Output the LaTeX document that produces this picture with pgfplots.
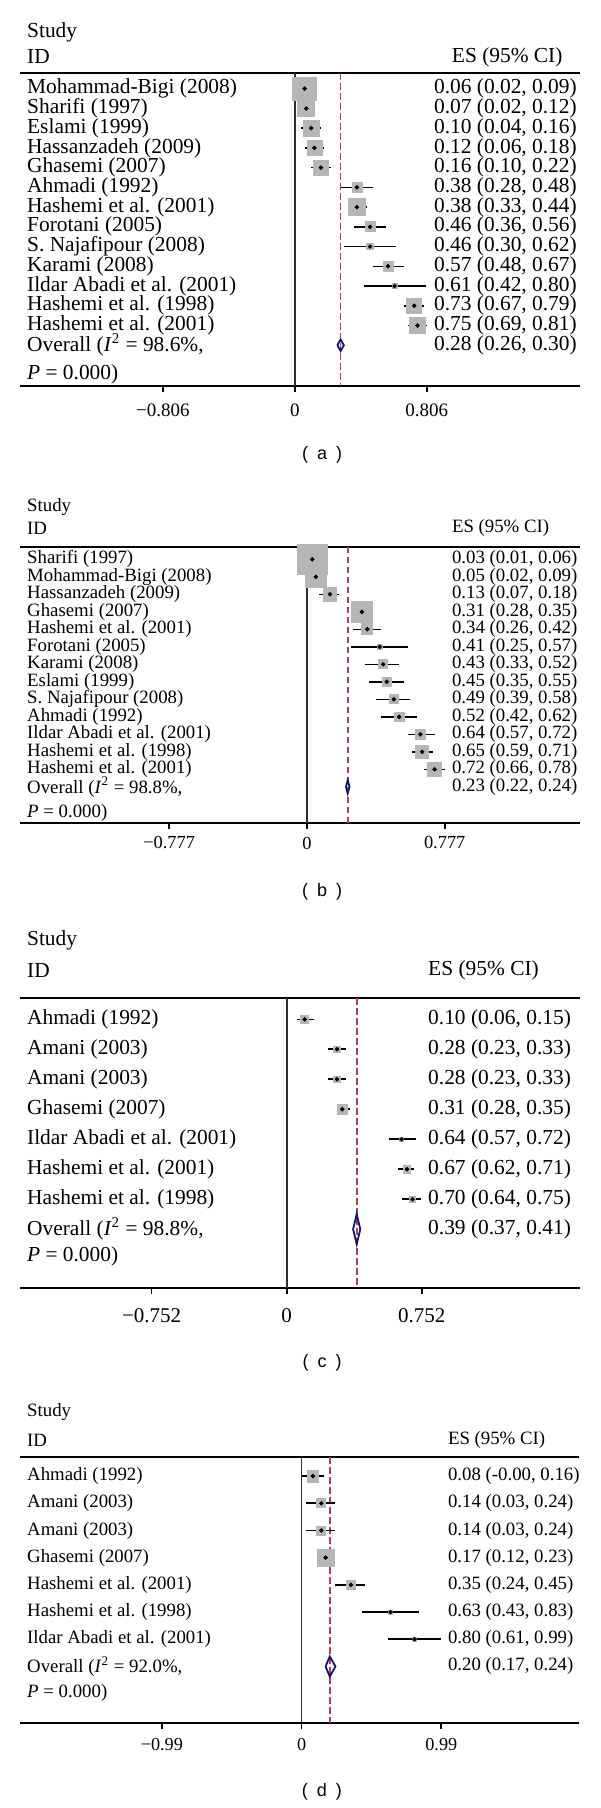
\documentclass[border=0pt]{standalone}
\usepackage{fontspec}
\setmainfont{Liberation Serif}
\newfontfamily\capfont{Liberation Sans}
\usepackage{pgfplots}
\pgfplotsset{compat=1.18}
\usepackage{pgfplotstable}
\definecolor{sqgray}{RGB}{182,182,182}
\definecolor{dashcol}{RGB}{170,68,84}
\definecolor{dianavy}{RGB}{20,20,110}
\definecolor{zerocol}{RGB}{45,45,45}

% r = -(row index), es, lo, hi, s = square side (px)
\pgfplotstableread{
r es lo hi s
0 0.06 0.02 0.09 23.5
-1 0.07 0.02 0.12 16.7
-2 0.10 0.04 0.16 16
-3 0.12 0.06 0.18 15
-4 0.16 0.10 0.22 15
-5 0.38 0.28 0.48 10
-6 0.38 0.33 0.44 17.3
-7 0.46 0.36 0.56 10
-8 0.46 0.30 0.62 6.5
-9 0.57 0.48 0.67 10
-10 0.61 0.42 0.80 5
-11 0.73 0.67 0.79 15
-12 0.75 0.69 0.81 16
}\tabA
\pgfplotstableread{
r es lo hi s
0 0.03 0.01 0.06 30
-1 0.05 0.02 0.09 21.3
-2 0.13 0.07 0.18 13.7
-3 0.31 0.28 0.35 21.7
-4 0.34 0.26 0.42 11
-5 0.41 0.25 0.57 5
-6 0.43 0.33 0.52 9
-7 0.45 0.35 0.55 8.7
-8 0.49 0.39 0.58 9
-9 0.52 0.42 0.62 9.6
-10 0.64 0.57 0.72 10.3
-11 0.65 0.59 0.71 12.6
-12 0.72 0.66 0.78 13.4
}\tabB
\pgfplotstableread{
r es lo hi s
0 0.10 0.06 0.15 8.3
-1 0.28 0.23 0.33 6.7
-2 0.28 0.23 0.33 6.7
-3 0.31 0.28 0.35 9.7
-4 0.64 0.57 0.72 4
-5 0.67 0.62 0.71 7.7
-6 0.70 0.64 0.75 6.5
}\tabC
\pgfplotstableread{
r es lo hi s
0 0.08 -0.00 0.16 11.7
-1 0.14 0.03 0.24 9
-2 0.14 0.03 0.24 9
-3 0.17 0.12 0.23 17
-4 0.35 0.24 0.45 9.3
-5 0.63 0.43 0.83 4
-6 0.80 0.61 0.99 4
}\tabD

\pgfplotsset{
  forest/.style={scale only axis, clip=false, anchor=north west,
    axis x line*=bottom, axis y line=none,
    x axis line style={-, line width=0.9pt, black},
    ytick=\empty, tick align=outside, major tick length=3pt,
    xtick style={line width=0.9pt, black},
    xticklabel style={anchor=center}},
  sq/.style={scatter, only marks, mark=square*,
    scatter/use mapped color={draw=sqgray, fill=sqgray},
    visualization depends on={\thisrow{s}/4 \as \msz},
    scatter/@pre marker code/.append style={/tikz/mark size=\msz}},
  ci/.style={only marks, mark=*, mark size=0.9pt, black,
    error bars/.cd, x dir=both, x explicit, error mark=none,
    error bar style={line width=0.8pt, black}}
}
\newcommand{\lbl}[2]{\node[anchor=west,inner sep=0pt,font=\fs] at (axis cs:\xL,#1) {#2};}
\newcommand{\val}[2]{\node[anchor=west,inner sep=0pt,font=\fs] at (axis cs:\xR,#1) {#2};}

\begin{document}
\begin{tikzpicture}
\path[use as bounding box] (0,0) rectangle (300pt,-904pt);

% ---------------- (a) ----------------
\def\xL{-1.638}\def\xR{0.849}\def\fs{\fontsize{10.7}{12}\selectfont}
\begin{axis}[forest, at={(9.95pt,-36.65pt)}, width=279.95pt, height=156.2pt,
  xmin=-1.680, xmax=1.742, ymin=-15.05, ymax=0.78,
  xtick={-0.806,0,0.806}, xticklabels={−0.806,0,0.806},
  xticklabel style={font=\fontsize{9.5}{11}\selectfont, yshift=-9.15pt}]
\draw[black, line width=0.9pt] (axis cs:-1.680,0.78) -- (axis cs:1.742,0.78);
\draw[zerocol, line width=0.9pt] (axis cs:0,0.78) -- (axis cs:0,-15.05);
\draw[dashcol, line width=0.9pt, dash pattern=on 3.3pt off 1.7pt] (axis cs:0.28,0.78) -- (axis cs:0.28,-15.05);
\addplot[sq] table[x=es, y=r] {\tabA};
\addplot[ci] table[x=es, y=r, x error plus expr=\thisrow{hi}-\thisrow{es}, x error minus expr=\thisrow{es}-\thisrow{lo}] {\tabA};
\addplot[dianavy, line width=0.9pt, line join=miter] coordinates {(0.26,-13) (0.28,-12.71) (0.30,-13) (0.28,-13.29) (0.26,-13)};
\lbl{2.85}{Study}
\lbl{1.61}{ID}
\node[anchor=west,inner sep=0pt,font=\fs] at (axis cs:0.958,1.61) {ES (95\% CI)};
\lbl{0}{Mohammad-Bigi (2008)}\val{0}{0.06 (0.02, 0.09)}
\lbl{-1}{Sharifi (1997)}\val{-1}{0.07 (0.02, 0.12)}
\lbl{-2}{Eslami (1999)}\val{-2}{0.10 (0.04, 0.16)}
\lbl{-3}{Hassanzadeh (2009)}\val{-3}{0.12 (0.06, 0.18)}
\lbl{-4}{Ghasemi (2007)}\val{-4}{0.16 (0.10, 0.22)}
\lbl{-5}{Ahmadi (1992)}\val{-5}{0.38 (0.28, 0.48)}
\lbl{-6}{Hashemi et al. (2001)}\val{-6}{0.38 (0.33, 0.44)}
\lbl{-7}{Forotani (2005)}\val{-7}{0.46 (0.36, 0.56)}
\lbl{-8}{S. Najafipour (2008)}\val{-8}{0.46 (0.30, 0.62)}
\lbl{-9}{Karami (2008)}\val{-9}{0.57 (0.48, 0.67)}
\lbl{-10}{Ildar Abadi et al. (2001)}\val{-10}{0.61 (0.42, 0.80)}
\lbl{-11}{Hashemi et al. (1998)}\val{-11}{0.73 (0.67, 0.79)}
\lbl{-12}{Hashemi et al. (2001)}\val{-12}{0.75 (0.69, 0.81)}
\lbl{-13}{Overall (\textit{I}\textsuperscript{2} = 98.6\%,}\val{-13}{0.28 (0.26, 0.30)}
\lbl{-14.5}{\textit{P} = 0.000)}
\node[font=\capfont\fontsize{9}{11}\selectfont] at (axis cs:0.1665,-18.55) {(\hspace{4.5pt}a\hspace{4.5pt})};
\end{axis}

% ---------------- (b) ----------------
\def\xL{-1.580}\def\xR{0.816}\def\fs{\fontsize{9.4}{11}\selectfont}
\begin{axis}[forest, at={(9.95pt,-273.35pt)}, width=279.95pt, height=138pt,
  xmin=-1.619, xmax=1.539, ymin=-15.05, ymax=0.72,
  xtick={-0.777,0,0.777}, xticklabels={−0.777,0,0.777},
  xticklabel style={font=\fontsize{9.2}{11}\selectfont, yshift=-7.15pt}]
\draw[black, line width=0.9pt] (axis cs:-1.619,0.72) -- (axis cs:1.539,0.72);
\draw[zerocol, line width=0.7pt] (axis cs:0,0.72) -- (axis cs:0,-15.05);
\draw[dashcol, line width=0.8pt, dash pattern=on 3.3pt off 1.7pt] (axis cs:0.23,0.72) -- (axis cs:0.23,-15.05);
\addplot[sq] table[x=es, y=r] {\tabB};
\addplot[ci] table[x=es, y=r, x error plus expr=\thisrow{hi}-\thisrow{es}, x error minus expr=\thisrow{es}-\thisrow{lo}] {\tabB};
\addplot[dianavy, line width=0.9pt, line join=miter] coordinates {(0.22,-13) (0.23,-12.62) (0.24,-13) (0.23,-13.38) (0.22,-13)};
\lbl{3.0}{Study}
\lbl{1.79}{ID}
\val{1.79}{ES (95\% CI)}
\lbl{0}{Sharifi (1997)}\val{0}{0.03 (0.01, 0.06)}
\lbl{-1}{Mohammad-Bigi (2008)}\val{-1}{0.05 (0.02, 0.09)}
\lbl{-2}{Hassanzadeh (2009)}\val{-2}{0.13 (0.07, 0.18)}
\lbl{-3}{Ghasemi (2007)}\val{-3}{0.31 (0.28, 0.35)}
\lbl{-4}{Hashemi et al. (2001)}\val{-4}{0.34 (0.26, 0.42)}
\lbl{-5}{Forotani (2005)}\val{-5}{0.41 (0.25, 0.57)}
\lbl{-6}{Karami (2008)}\val{-6}{0.43 (0.33, 0.52)}
\lbl{-7}{Eslami (1999)}\val{-7}{0.45 (0.35, 0.55)}
\lbl{-8}{S. Najafipour (2008)}\val{-8}{0.49 (0.39, 0.58)}
\lbl{-9}{Ahmadi (1992)}\val{-9}{0.52 (0.42, 0.62)}
\lbl{-10}{Ildar Abadi et al. (2001)}\val{-10}{0.64 (0.57, 0.72)}
\lbl{-11}{Hashemi et al. (1998)}\val{-11}{0.65 (0.59, 0.71)}
\lbl{-12}{Hashemi et al. (2001)}\val{-12}{0.72 (0.66, 0.78)}
\lbl{-13}{Overall (\textit{I}\textsuperscript{2} = 98.8\%,}\val{-13}{0.23 (0.22, 0.24)}
\lbl{-14.48}{\textit{P} = 0.000)}
\node[font=\capfont\fontsize{9}{11}\selectfont] at (axis cs:0.085,-19.0) {(\hspace{4.5pt}b\hspace{4.5pt})};
\end{axis}

% ---------------- (c) ----------------
\def\xL{-1.447}\def\xR{0.786}\def\fs{\fontsize{10.7}{12}\selectfont}
\begin{axis}[forest, at={(9.95pt,-499.15pt)}, width=279.95pt, height=144.7pt,
  xmin=-1.485, xmax=1.632, ymin=-8.95, ymax=0.7,
  xtick={-0.752,0,0.752}, xticklabels={−0.752,0,0.752},
  xticklabel style={font=\fontsize{10.5}{12}\selectfont, yshift=-11pt}]
\draw[black, line width=0.9pt] (axis cs:-1.485,0.7) -- (axis cs:1.632,0.7);
\draw[zerocol, line width=0.9pt] (axis cs:0,0.7) -- (axis cs:0,-8.95);
\draw[dashcol, line width=0.9pt, dash pattern=on 3.3pt off 1.7pt] (axis cs:0.39,0.7) -- (axis cs:0.39,-8.95);
\addplot[sq] table[x=es, y=r] {\tabC};
\addplot[ci] table[x=es, y=r, x error plus expr=\thisrow{hi}-\thisrow{es}, x error minus expr=\thisrow{es}-\thisrow{lo}] {\tabC};
\addplot[dianavy, line width=0.9pt, line join=miter] coordinates {(0.37,-7) (0.39,-6.5) (0.41,-7) (0.39,-7.5) (0.37,-7)};
\lbl{2.64}{Study}
\lbl{1.64}{ID}
\val{1.64}{ES (95\% CI)}
\lbl{0}{Ahmadi (1992)}\val{0}{0.10 (0.06, 0.15)}
\lbl{-1}{Amani (2003)}\val{-1}{0.28 (0.23, 0.33)}
\lbl{-2}{Amani (2003)}\val{-2}{0.28 (0.23, 0.33)}
\lbl{-3}{Ghasemi (2007)}\val{-3}{0.31 (0.28, 0.35)}
\lbl{-4}{Ildar Abadi et al. (2001)}\val{-4}{0.64 (0.57, 0.72)}
\lbl{-5}{Hashemi et al. (2001)}\val{-5}{0.67 (0.62, 0.71)}
\lbl{-6}{Hashemi et al. (1998)}\val{-6}{0.70 (0.64, 0.75)}
\lbl{-7}{Overall (\textit{I}\textsuperscript{2} = 98.8\%,}\val{-7}{0.39 (0.37, 0.41)}
\lbl{-7.91}{\textit{P} = 0.000)}
\node[font=\capfont\fontsize{9}{11}\selectfont] at (axis cs:0.197,-11.47) {(\hspace{4.5pt}c\hspace{4.5pt})};
\end{axis}

% ---------------- (d) ----------------
\def\xL{-1.947}\def\xR{1.035}\def\fs{\fontsize{9.4}{11}\selectfont}
\begin{axis}[forest, at={(9.95pt,-728.65pt)}, width=279.35pt, height=133pt,
  xmin=-1.996, xmax=1.963, ymin=-9.09, ymax=0.69,
  xtick={-0.99,0,0.99}, xticklabels={−0.99,0,0.99},
  xticklabel style={font=\fontsize{9.1}{11}\selectfont, yshift=-7.85pt}]
\draw[black, line width=0.9pt] (axis cs:-1.996,0.69) -- (axis cs:1.963,0.69);
\draw[zerocol, line width=0.7pt] (axis cs:0,0.69) -- (axis cs:0,-9.09);
\draw[dashcol, line width=0.8pt, dash pattern=on 3.3pt off 1.7pt] (axis cs:0.20,0.69) -- (axis cs:0.20,-9.09);
\addplot[sq] table[x=es, y=r] {\tabD};
\addplot[ci] table[x=es, y=r, x error plus expr=\thisrow{hi}-\thisrow{es}, x error minus expr=\thisrow{es}-\thisrow{lo}] {\tabD};
\addplot[dianavy, line width=0.9pt, line join=miter] coordinates {(0.17,-7) (0.20,-6.63) (0.24,-7) (0.20,-7.37) (0.17,-7)};
\lbl{2.36}{Study}
\lbl{1.32}{ID}
\val{1.32}{ES (95\% CI)}
\lbl{0}{Ahmadi (1992)}\val{0}{0.08 (-0.00, 0.16)}
\lbl{-1}{Amani (2003)}\val{-1}{0.14 (0.03, 0.24)}
\lbl{-2}{Amani (2003)}\val{-2}{0.14 (0.03, 0.24)}
\lbl{-3}{Ghasemi (2007)}\val{-3}{0.17 (0.12, 0.23)}
\lbl{-4}{Hashemi et al. (2001)}\val{-4}{0.35 (0.24, 0.45)}
\lbl{-5}{Hashemi et al. (1998)}\val{-5}{0.63 (0.43, 0.83)}
\lbl{-6}{Ildar Abadi et al. (2001)}\val{-6}{0.80 (0.61, 0.99)}
\lbl{-7}{Overall (\textit{I}\textsuperscript{2} = 92.0\%,}\val{-7}{0.20 (0.17, 0.24)}
\lbl{-7.99}{\textit{P} = 0.000)}
\node[font=\capfont\fontsize{9}{11}\selectfont] at (axis cs:0.1446,-11.6) {(\hspace{4.5pt}d\hspace{4.5pt})};
\end{axis}
\end{tikzpicture}
\end{document}
